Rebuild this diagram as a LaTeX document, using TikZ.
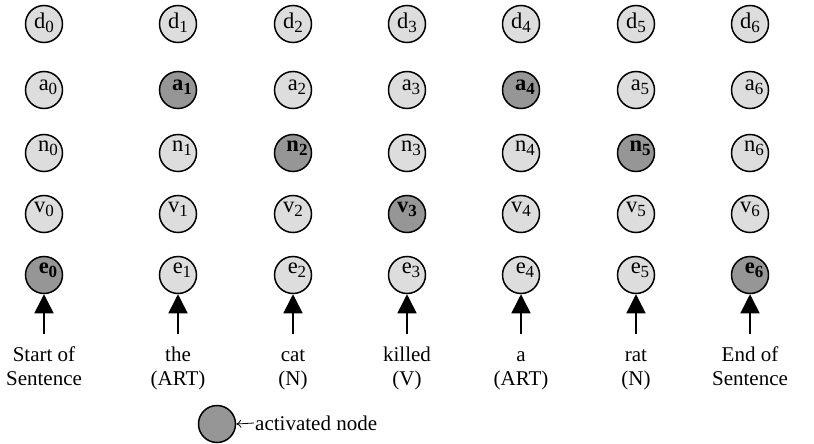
\documentclass[tikz,border=0pt]{standalone}
\usepackage{fontspec}
\setmainfont{Liberation Serif}
\usetikzlibrary{arrows.meta}
\definecolor{lightfill}{RGB}{221,221,221}
\definecolor{darkfill}{RGB}{150,150,150}
\newcommand{\nsub}[1]{{\fontsize{17}{17}\selectfont\raisebox{-4pt}{#1}}}
\begin{document}
\begin{tikzpicture}[x=1pt,y=-1pt,
  unit/.style={circle,draw=black,line width=1.5pt,fill=lightfill,minimum size=37pt,inner sep=0pt},
  active/.style={unit,fill=darkfill},
  tu/.style={anchor=base,inner sep=0pt,font=\fontsize{22.5}{24}\selectfont},
  ta/.style={tu,font=\fontsize{22.5}{24}\selectfont\bfseries},
  word/.style={align=center,anchor=north,inner sep=0pt,font=\fontsize{21}{24}\selectfont},
  inarrow/.style={line width=1.5pt,-{Triangle[length=19pt,width=19pt]}},
  legarrow/.style={line width=0.8pt,-{To[length=5pt,width=8pt]}},
]
\useasboundingbox (0,0) rectangle (814,444);
% rows of nodes
\foreach \r/\y/\dy/\dx/\la/\lb/\lc/\ld/\le/\lf/\lg in {
  d/24/5/0/u/u/u/u/u/u/u,
  a/90/1/4/u/a/u/u/a/u/u,
  n/153/-2/4/u/u/a/u/u/a/u,
  v/214/-2/0/u/u/u/a/u/u/u,
  e/275/-2/4/a/u/u/u/u/u/a}{
  \foreach \i/\x/\s in {0/44/\la,1/178/\lb,2/293/\lc,3/407/\ld,4/521/\le,5/636/\lf,6/750/\lg}{
    \if a\s
      \node[active] (\r\i) at (\x,\y) {};
      \node[ta] (t\r\i) at (\x+\dx,\y+\dy) {\r\nsub{\i}};
    \else
      \node[unit] (\r\i) at (\x,\y) {};
      \node[tu] (t\r\i) at (\x+\dx,\y+\dy) {\r\nsub{\i}};
    \fi
  }
}
% input arrows and words
\foreach \i/\x/\w in {0/44/{Start of\\Sentence},1/178/{the\\(ART)},2/293/{cat\\(N)},3/407/{killed\\(V)},4/521/{a\\(ART)},5/636/{rat\\(N)},6/750/{End of\\Sentence}}{
  \coordinate (s\i) at (\x,334);
  \draw[inarrow] (s\i) -- (e\i);
  \node[word] (w\i) at (\x,344) {\strut\w};
}
% legend
\node[active] (leg) at (217,424) {};
\node[anchor=west,inner sep=1pt,font=\fontsize{21}{24}\selectfont] (legt) at (254,423) {activated node};
\draw[legarrow] (legt.west) -- (leg.east);
\end{tikzpicture}
\end{document}
